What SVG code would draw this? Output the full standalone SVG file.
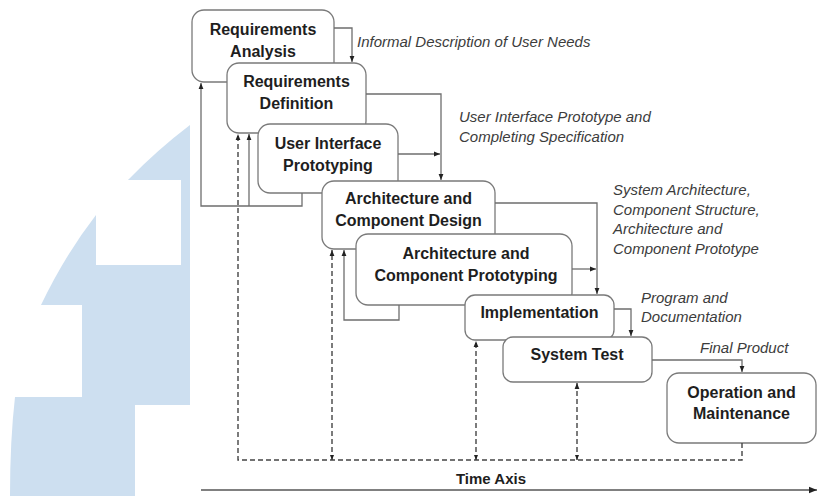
<svg xmlns="http://www.w3.org/2000/svg" width="831" height="496" viewBox="0 0 831 496">
<style>
.bg{fill:#ffffff}
.wm{fill:#cddff0}
.box{fill:#ffffff;stroke:#7a7a7a;stroke-width:1.3}
.t{font-family:"Liberation Sans",Arial,sans-serif;font-weight:bold;font-size:16px;fill:#1e1e1e;text-anchor:middle}
.lbl{font-family:"Liberation Sans",Arial,sans-serif;font-style:italic;font-size:15px;fill:#3c3c3c}
.ln{fill:none;stroke:#6e6e6e;stroke-width:1.3}
.dash{fill:none;stroke:#444;stroke-width:1.4;stroke-dasharray:5,3}
.axis{fill:none;stroke:#808080;stroke-width:2}
</style>
<defs>
<marker id="ah" viewBox="0 0 10 10" refX="10" refY="5" markerWidth="6" markerHeight="6" markerUnits="userSpaceOnUse" orient="auto-start-reverse">
<path d="M0,1 L10,5 L0,9 z" fill="#222"/>
</marker>
<marker id="ahs" viewBox="0 0 10 10" refX="10" refY="5" markerWidth="5" markerHeight="5" markerUnits="userSpaceOnUse" orient="auto-start-reverse">
<path d="M0,1 L10,5 L0,9 z" fill="#222"/>
</marker>
<marker id="ahx" viewBox="0 0 10 10" refX="10" refY="5" markerWidth="8" markerHeight="8" markerUnits="userSpaceOnUse" orient="auto">
<path d="M0,1 L10,5 L0,9 z" fill="#222"/>
</marker>
</defs>
<rect class="bg" x="0" y="0" width="831" height="496"/>
<path class="wm" d="M190,125 L190,405 L135,405 L135,496 L10,496 Q10,440 15,397 L82,397 L82,305 L41,305 Q65,255 96,215 L96,265 L181,265 L181,180 L128,180 Q157,150 190,125 Z"/>

<g id="n1"><rect class="box" x="192" y="10" width="142" height="72" rx="12"/>
<text class="t" x="263" y="35">Requirements</text><text class="t" x="263" y="57">Analysis</text></g>
<g id="n2"><rect class="box" x="227" y="63" width="139" height="70" rx="12"/>
<text class="t" x="296.5" y="87">Requirements</text><text class="t" x="296.5" y="109">Definition</text></g>
<g id="n3"><rect class="box" x="258" y="124" width="140" height="69" rx="12"/>
<text class="t" x="328" y="149">User Interface</text><text class="t" x="328" y="171">Prototyping</text></g>
<g id="n4"><rect class="box" x="322" y="181" width="173" height="68" rx="12"/>
<text class="t" x="408.5" y="204">Architecture and</text><text class="t" x="408.5" y="226">Component Design</text></g>
<g id="n5"><rect class="box" x="356" y="234" width="216" height="71" rx="12"/>
<text class="t" x="466" y="259">Architecture and</text><text class="t" x="466" y="281">Component Prototyping</text></g>
<g id="n6"><rect class="box" x="465" y="295" width="149" height="45" rx="10"/>
<text class="t" x="539.5" y="318">Implementation</text></g>
<g id="n7"><rect class="box" x="503" y="337" width="149" height="45" rx="10"/>
<text class="t" x="577" y="360">System Test</text></g>
<g id="n8"><rect class="box" x="667" y="373" width="149" height="70" rx="12"/>
<text class="t" x="741.5" y="398">Operation and</text><text class="t" x="741.5" y="419">Maintenance</text></g>

<g id="connectors">
<path class="ln" d="M334,28 H352 V62" marker-end="url(#ah)"/>
<path class="ln" d="M366,94 H441 V180" marker-end="url(#ah)"/>
<path class="ln" d="M398,154 H440" marker-end="url(#ah)"/>
<path class="ln" d="M495,203 H597 V294" marker-end="url(#ah)"/>
<path class="ln" d="M572,269 H596" marker-end="url(#ah)"/>
<path class="ln" d="M614,309 H631 V336" marker-end="url(#ah)"/>
<path class="ln" d="M652,360 H742 V372" marker-end="url(#ah)"/>
<path class="ln" d="M302,193 V206 H201 V83" marker-end="url(#ah)"/>
<path class="ln" d="M249,206 V134" marker-end="url(#ah)"/>
<path class="ln" d="M399,305 V320 H344 V250" marker-end="url(#ah)"/>
<path class="dash" d="M742,443 V460 H238 V134" marker-end="url(#ah)"/>
<path class="dash" d="M332,460 V250" marker-start="url(#ahs)" marker-end="url(#ah)"/>
<path class="dash" d="M476,460 V341" marker-start="url(#ahs)" marker-end="url(#ah)"/>
<path class="dash" d="M577,460 V383" marker-start="url(#ahs)" marker-end="url(#ah)"/>
<path class="axis" d="M201,490 H817" marker-end="url(#ahx)"/>
</g>

<g id="labels">
<text class="lbl" x="357" y="47">Informal Description of User Needs</text>
<text class="lbl" x="459" y="122">User Interface Prototype and</text>
<text class="lbl" x="459" y="142">Completing Specification</text>
<text class="lbl" x="613" y="195">System Architecture,</text>
<text class="lbl" x="613" y="214.5">Component Structure,</text>
<text class="lbl" x="613" y="234">Architecture and</text>
<text class="lbl" x="613" y="253.5">Component Prototype</text>
<text class="lbl" x="641" y="303">Program and</text>
<text class="lbl" x="641" y="322">Documentation</text>
<text class="lbl" x="700" y="353">Final Product</text>
<text class="t" x="491" y="484" style="font-size:15px">Time Axis</text>
</g>
</svg>
